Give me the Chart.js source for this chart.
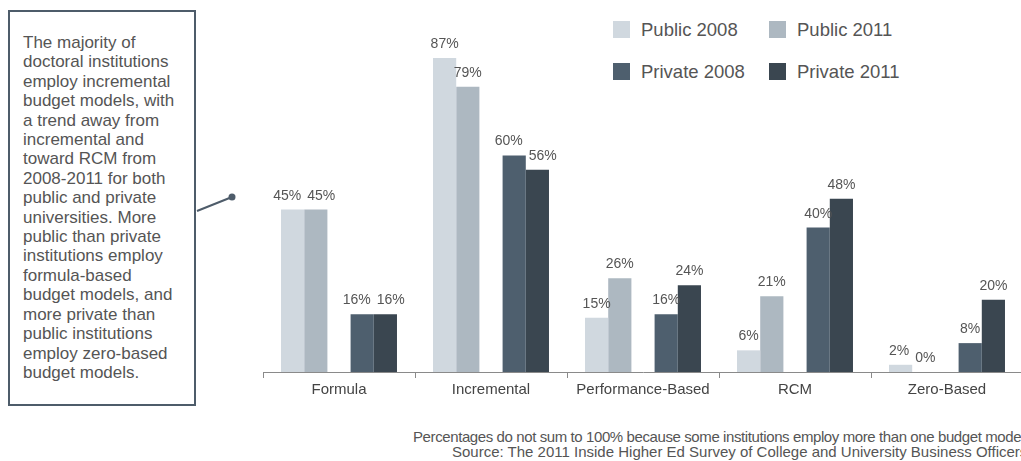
<!DOCTYPE html>
<html>
<head>
    <title>Budget Models</title>
    <script src="https://cdn.jsdelivr.net/npm/chart.js"></script>
    <style>
        html, body { margin: 0; padding: 0; background: #fff; }
        body { width: 1021px; height: 461px; overflow: hidden; position: relative; font-family: "Liberation Sans", Arial, sans-serif; }
        #note {
            position: absolute; left: 8px; top: 10px; width: 184px; height: 392px;
            border: 2px solid #4e5c6a; box-sizing: content-box;
            color: #555; font-size: 17px; line-height: 19.4px;
        }
        #note p { margin: 0; padding: 21px 8px 0 13px; }
        #connector { position: absolute; left: 0; top: 0; }
        #legend { position: absolute; left: 613px; top: 20px; color: #555; font-size: 18.5px; }
        .item { position: absolute; white-space: nowrap; height: 20px; line-height: 20px; }
        .item span.box { position: absolute; left: 0; top: 1px; width: 17px; height: 17px; }
        .item span.txt { position: absolute; left: 28px; top: 0; }
        #wrap { position: absolute; left: 263px; top: 2px; width: 760px; height: 400px; }
        .foot { position: absolute; color: #555; font-size: 15px; line-height: 15px; white-space: nowrap; }
        #foot1 { left: 413px; top: 429px; letter-spacing: -0.4px; }
        #foot2 { left: 452px; top: 444px; }
    </style>
</head>
<body>
    <div id="note"><p>The majority of doctoral institutions employ incremental budget models, with a trend away from incremental and toward RCM from 2008-2011 for both public and private universities. More public than private institutions employ formula-based budget models, and more private than public institutions employ zero-based budget models.</p></div>
    <svg id="connector" width="260" height="420">
        <line x1="197" y1="211" x2="232" y2="197" stroke="#4e5c6a" stroke-width="2"/>
        <circle cx="232" cy="197" r="3.5" fill="#4e5c6a"/>
    </svg>
    <div id="legend"></div>
    <div id="wrap"><canvas id="budgetChart"></canvas></div>
    <div class="foot" id="foot1">Percentages do not sum to 100% because some institutions employ more than one budget model.</div>
    <div class="foot" id="foot2">Source: The 2011 Inside Higher Ed Survey of College and University Business Officers.</div>
    <script>
        const categories = ['Formula', 'Incremental', 'Performance-Based', 'RCM', 'Zero-Based'];
        const public2008 = [45, 87, 15, 6, 2];
        const public2011 = [45, 79, 26, 21, 0];
        const private2008 = [16, 60, 16, 40, 8];
        const private2011 = [16, 56, 24, 48, 20];
        const seriesNames = ['Public 2008', 'Public 2011', 'Private 2008', 'Private 2011'];
        const colors = ['#d0d8df', '#adb8c1', '#4e5f6e', '#3a4650'];

        // html legend, 2 x 2
        const legend = document.getElementById('legend');
        seriesNames.forEach((name, i) => {
            const el = document.createElement('div');
            el.className = 'item';
            el.style.left = (i % 2) * 156 + 'px';
            el.style.top = Math.floor(i / 2) * 42 + 'px';
            el.innerHTML = `<span class="box" style="background:${colors[i]}"></span><span class="txt">${name}</span>`;
            legend.appendChild(el);
        });

        const labelPlugin = {
            id: 'barLabels',
            afterDatasetsDraw(chart) {
                const ctx = chart.ctx;
                ctx.save();
                ctx.font = '14px "Liberation Sans", Arial, sans-serif';
                ctx.fillStyle = '#555';
                ctx.textAlign = 'center';
                ctx.textBaseline = 'alphabetic';
                const pairs = [[0, 1], [3, 4]];
                categories.forEach((c, ci) => {
                    const pos = {};
                    chart.data.datasets.forEach((ds, di) => {
                        if (ds.spacer) return;
                        const bar = chart.getDatasetMeta(di).data[ci];
                        const text = ds.data[ci] + '%';
                        pos[di] = { x: bar.x, y: bar.y - 10, text, w: ctx.measureText(text).width };
                    });
                    pairs.forEach(([a, b]) => {
                        const p = pos[a], q = pos[b];
                        if (Math.abs(p.y - q.y) < 16) {
                            const need = (p.w + q.w) / 2 + 6;
                            const diff = q.x - p.x;
                            if (diff < need) {
                                p.x -= (need - diff) / 2;
                                q.x += (need - diff) / 2;
                            }
                        }
                    });
                    Object.values(pos).forEach(p => ctx.fillText(p.text, p.x, p.y));
                });
                ctx.restore();
            }
        };

        const seriesData = [public2008, public2011, private2008, private2011];
        const datasets = seriesData.map((d, i) => ({
            label: seriesNames[i], data: d, backgroundColor: colors[i],
            barPercentage: 1, categoryPercentage: 0.763
        }));
        // empty slot between public and private bars
        datasets.splice(2, 0, { label: '', data: categories.map(() => null), spacer: true,
            barPercentage: 1, categoryPercentage: 0.763 });

        new Chart(document.getElementById('budgetChart'), {
            type: 'bar',
            data: { labels: categories, datasets },
            options: {
                responsive: true,
                maintainAspectRatio: false,
                animation: false,
                layout: { padding: { top: 9, left: 0, right: 0, bottom: 0 } },
                plugins: { legend: { display: false }, tooltip: { enabled: false } },
                scales: {
                    x: {
                        grid: { drawOnChartArea: false, drawTicks: true, tickLength: 6, color: '#8a8a8a', offset: true },
                        border: { color: '#8a8a8a', width: 1 },
                        ticks: { color: '#444', font: { family: '"Liberation Sans", Arial, sans-serif', size: 15 }, padding: 3 }
                    },
                    y: { display: false, min: 0, max: 100 }
                }
            },
            plugins: [labelPlugin]
        });
    </script>
</body>
</html>
